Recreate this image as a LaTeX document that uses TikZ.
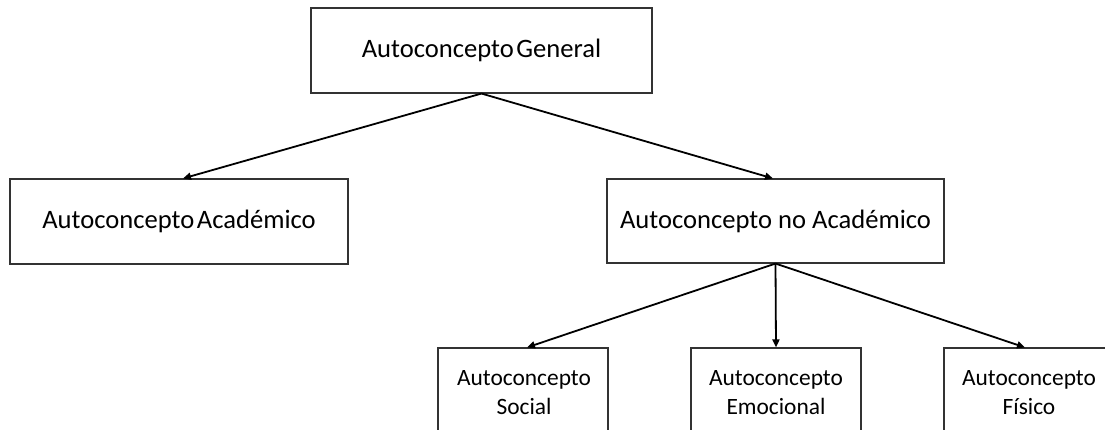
\documentclass[tikz,border=0pt]{standalone}
\usepackage{fontspec}
\setmainfont{Carlito}
\usetikzlibrary{arrows.meta}
\begin{document}
\begin{tikzpicture}[x=1pt,y=-1pt,
  box/.style={draw=black!80,line width=1.1pt,inner sep=0pt,rectangle},
  link/.style={line width=1.8pt,-{Triangle[length=8pt,width=7pt]}},
  big/.style={font=\fontsize{26.6}{30}\selectfont},
  small/.style={font=\fontsize{23.4}{29}\selectfont,align=center,inner sep=0pt}]
\useasboundingbox (0,0) rectangle (1105,430);
\clip (0,0) rectangle (1105,430);
% upper levels
\node[box,big,minimum width=341pt,minimum height=85pt] (gen) at (481.5,50.5) {Autoconcepto\hspace{2.5pt}General};
\node[box,big,minimum width=338pt,minimum height=85pt] (aca) at (179,221.5) {Autoconcepto\hspace{2.5pt}Académico};
\node[box,big,minimum width=337pt,minimum height=84pt] (noaca) at (775.5,221) {Autoconcepto no Académico};
% lower level, cut off at the page edges
\node[box,minimum width=170pt,minimum height=110pt] (soc) at (523,403) {};
\node[box,minimum width=170pt,minimum height=110pt] (emo) at (776,403) {};
\node[box,minimum width=170pt,minimum height=110pt] (fis) at (1029,403) {};
\node[small,anchor=base] (socT) at (524,414) {Autoconcepto\\Social};
\node[small,anchor=base] (emoT) at (776,414) {Autoconcepto\\Emocional};
\node[small,anchor=base] (fisT) at (1029,414) {Autoconcepto\\Físico};
% connectors
\draw[link] (gen.south) -- ([xshift=4pt]aca.north);
\draw[link] (gen.south) -- ([xshift=-2.5pt]noaca.north);
\draw[link] (noaca.south) -- ([xshift=4pt]soc.north);
\draw[link] (noaca.south) -- (emo.north);
\draw[link] (noaca.south) -- ([xshift=-4pt]fis.north);
\end{tikzpicture}
\end{document}
